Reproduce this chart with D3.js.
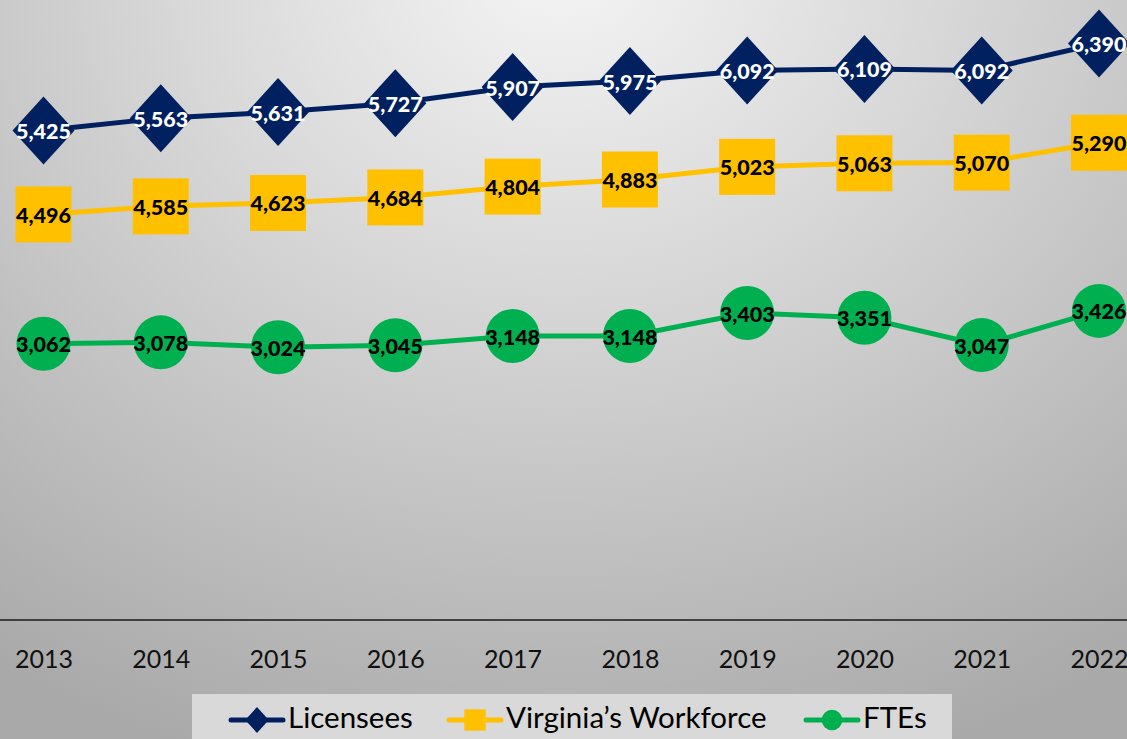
<!DOCTYPE html>
<html><head><meta charset="utf-8">
<script src="https://cdn.jsdelivr.net/npm/d3@7"></script>
<style>html,body{margin:0;padding:0;overflow:hidden;background:#fff}</style>
</head><body>
<script>
const years = ["2013","2014","2015","2016","2017","2018","2019","2020","2021","2022"];
const licensees = [5425,5563,5631,5727,5907,5975,6092,6109,6092,6390];
const workforce = [4496,4585,4623,4684,4804,4883,5023,5063,5070,5290];
const ftes = [3062,3078,3024,3045,3148,3148,3403,3351,3047,3426];
const seriesNames = ["Licensees","Virginia\u2019s Workforce","FTEs"];

const W=1127,H=739;
const svg=d3.select("body").append("svg").attr("width",W).attr("height",H);
const defs=svg.append("defs");
const g=defs.append("radialGradient").attr("id","bg").attr("gradientUnits","userSpaceOnUse")
  .attr("cx",560).attr("cy",-40).attr("r",1000).attr("gradientTransform","translate(560,-40) scale(1,0.85) translate(-560,40)");
g.append("stop").attr("offset",0).attr("stop-color","#f5f5f5");
g.append("stop").attr("offset",1).attr("stop-color","#a9a9a9");
svg.append("rect").attr("width",W).attr("height",H).attr("fill","url(#bg)");

const x=d3.scalePoint().domain(years).range([43.5,1099]);
const y=d3.scaleLinear().domain([0,7000]).range([620,-11.5]);
const font="Lato, 'Open Sans', sans-serif";

// axis
svg.append("line").attr("x1",0).attr("x2",W).attr("y1",y(0)).attr("y2",y(0)).attr("stroke","#1a1a1a").attr("stroke-width",1.5);
const xa=svg.append("g").attr("transform",`translate(0,${y(0)})`).call(d3.axisBottom(x).tickSize(0).tickPadding(30));
xa.select(".domain").remove();
xa.selectAll("text").attr("font-family",font).attr("font-size",25).attr("fill","#111");

const series=[
 {name:seriesNames[0],vals:licensees,color:"#002060",marker:"diamond",text:"#fff"},
 {name:seriesNames[1],vals:workforce,color:"#FFC000",marker:"square",text:"#000"},
 {name:seriesNames[2],vals:ftes,color:"#00B050",marker:"circle",text:"#000"}
];
const line=d3.line().x((d,i)=>x(years[i])).y(d=>y(d));
function drawMarker(sel,type,color,s){
  if(type==="diamond") sel.append("path").attr("d",`M0,${-34*s}L${31*s},0L0,${34*s}L${-31*s},0Z`).attr("fill",color);
  else if(type==="square") sel.append("rect").attr("x",-28*s).attr("y",-28*s).attr("width",56*s).attr("height",56*s).attr("fill",color);
  else sel.append("circle").attr("r",27*s).attr("fill",color);
}
series.forEach(s=>{
  svg.append("path").datum(s.vals).attr("d",line).attr("fill","none").attr("stroke",s.color).attr("stroke-width",5);
});
series.forEach(s=>{
  s.vals.forEach((v,i)=>{
    const m=svg.append("g").attr("transform",`translate(${x(years[i])},${y(v)})`);
    drawMarker(m,s.marker,s.color,1);
  });
});
series.forEach(s=>{
  svg.append("g").selectAll("text").data(s.vals).join("text")
   .attr("x",(d,i)=>x(years[i])).attr("y",d=>y(d)+3)
   .attr("text-anchor","middle").attr("dominant-baseline","middle")
   .attr("font-family",font).attr("font-weight","900").attr("font-size",21.5)
   .attr("fill",s.text).text(d=>d3.format(",")(d));
});

// legend
const lg=svg.append("g");
lg.append("rect").attr("x",192).attr("y",694).attr("width",760).attr("height",50).attr("fill","#d9d9d9");
const items=[{x:229},{x:447},{x:804}];
series.forEach((s,i)=>{
  const lx=items[i].x, ly=720;
  lg.append("line").attr("x1",lx+2).attr("x2",lx+54).attr("y1",ly).attr("y2",ly).attr("stroke",s.color).attr("stroke-width",5).attr("stroke-linecap","round");
  const m=lg.append("g").attr("transform",`translate(${lx+28},${ly})`);
  drawMarker(m,s.marker,s.color,0.38);
  lg.append("text").attr("x",lx+59).attr("y",ly+1).attr("dominant-baseline","middle")
    .attr("font-family",font).attr("font-size",29.5).attr("fill","#000").text(s.name);
});
</script>
</body></html>
